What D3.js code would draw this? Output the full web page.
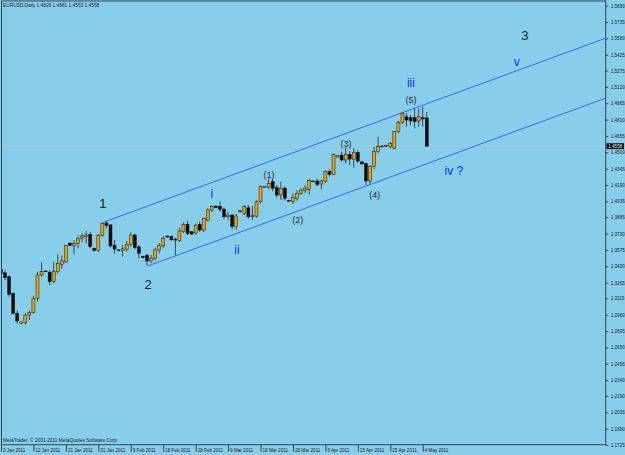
<!DOCTYPE html>
<html>
<head>
<meta charset="utf-8">
<script src="https://cdn.jsdelivr.net/npm/d3@7"></script>
<style>
    html, body { margin: 0; padding: 0; background: #87ceeb; }
    svg { display: block; font-family: "Liberation Sans", Arial, sans-serif; }
</style>
</head>
<body>
<svg id="chart" width="625" height="455"></svg>
<script>
// EURUSD daily bars, 3 Jan 2011 .. 5 May 2011 (sunday bars included)
const opens = [1.3390,1.3358,1.3320,1.3163,1.2974,1.2875,1.2888,1.2958,1.2983,1.3116,
    1.3337,1.3375,1.3362,1.3273,1.3368,1.3438,1.3460,1.3640,1.3612,1.3637,
    1.3684,1.3700,1.3722,1.3590,1.3570,1.3710,1.3830,1.3812,1.3620,1.3575,
    1.3570,1.3580,1.3625,1.3716,1.3603,1.3514,1.3526,1.3469,1.3494,1.3574,
    1.3614,1.3706,1.3703,1.3678,1.3662,1.3747,1.3817,1.3747,1.3735,1.3817,
    1.3763,1.3858,1.3953,1.3990,1.3988,1.3962,1.3889,1.3905,1.3796,1.3945,
    1.3922,1.3974,1.3889,1.3895,1.4031,1.4172,1.4170,1.4221,1.4164,1.4095,
    1.4160,1.4045,1.4035,1.4065,1.4110,1.4140,1.4150,1.4228,1.4228,1.4200,
    1.4222,1.4316,1.4290,1.4455,1.4474,1.4427,1.4481,1.4436,1.4500,1.4410,
    1.4395,1.4228,1.4364,1.4506,1.4553,1.4560,1.4555,1.4538,1.4695,1.4784,
    1.4837,1.4828,1.4828,1.4797,1.4828,1.4826];
const highs = [1.3425,1.3385,1.3335,1.3170,1.3000,1.2895,1.2975,1.2998,1.3140,1.3368,
    1.3457,1.3380,1.3384,1.3462,1.3533,1.3520,1.3625,1.3645,1.3668,1.3710,
    1.3731,1.3754,1.3745,1.3595,1.3725,1.3835,1.3848,1.3817,1.3668,1.3580,
    1.3621,1.3659,1.3741,1.3730,1.3621,1.3520,1.3533,1.3526,1.3595,1.3640,
    1.3706,1.3710,1.3712,1.3690,1.3785,1.3835,1.3850,1.3752,1.3825,1.3845,
    1.3880,1.3970,1.4000,1.3995,1.4035,1.3975,1.3935,1.3915,1.3915,1.3950,
    1.4000,1.3999,1.3990,1.4045,1.4185,1.4180,1.4250,1.4250,1.4190,1.4221,
    1.4175,1.4050,1.4110,1.4140,1.4160,1.4190,1.4250,1.4232,1.4250,1.4240,
    1.4330,1.4340,1.4490,1.4472,1.4506,1.4545,1.4512,1.4538,1.4520,1.4415,
    1.4400,1.4380,1.4553,1.4648,1.4570,1.4575,1.4600,1.4700,1.4800,1.4880,
    1.4870,1.4853,1.4917,1.4917,1.4932,1.4881];
const lows = [1.3245,1.3288,1.3131,1.2960,1.2875,1.2870,1.2867,1.2910,1.2974,1.3084,
    1.3321,1.3368,1.3242,1.3256,1.3350,1.3394,1.3450,1.3612,1.3533,1.3590,
    1.3650,1.3637,1.3590,1.3560,1.3555,1.3700,1.3780,1.3596,1.3542,1.3562,
    1.3510,1.3558,1.3605,1.3583,1.3495,1.3495,1.3425,1.3450,1.3475,1.3542,
    1.3592,1.3690,1.3660,1.3525,1.3650,1.3735,1.3715,1.3720,1.3720,1.3745,
    1.3745,1.3845,1.3935,1.3970,1.3935,1.3865,1.3860,1.3770,1.3765,1.3932,
    1.3905,1.3870,1.3860,1.3880,1.4015,1.4168,1.4150,1.4130,1.4070,1.4048,
    1.4045,1.4030,1.4010,1.4040,1.4095,1.4115,1.4100,1.4220,1.4180,1.4150,
    1.4210,1.4270,1.4285,1.4450,1.4411,1.4396,1.4380,1.4354,1.4400,1.4385,
    1.4190,1.4200,1.4342,1.4490,1.4540,1.4550,1.4535,1.4530,1.4680,1.4770,
    1.4743,1.4758,1.4727,1.4743,1.4743,1.4553];
const closes = [1.3350,1.3311,1.3154,1.2974,1.2901,1.2892,1.2957,1.2983,1.3116,1.3337,
    1.3368,1.3372,1.3273,1.3368,1.3448,1.3470,1.3615,1.3617,1.3637,1.3684,
    1.3706,1.3716,1.3605,1.3567,1.3710,1.3827,1.3808,1.3612,1.3583,1.3568,
    1.3585,1.3627,1.3716,1.3596,1.3543,1.3501,1.3469,1.3494,1.3574,1.3614,
    1.3685,1.3697,1.3671,1.3668,1.3754,1.3817,1.3732,1.3725,1.3810,1.3763,
    1.3874,1.3953,1.3988,1.3975,1.3960,1.3889,1.3905,1.3795,1.3896,1.3938,
    1.3984,1.3889,1.3900,1.4031,1.4174,1.4176,1.4206,1.4159,1.4095,1.4160,
    1.4065,1.4038,1.4070,1.4110,1.4140,1.4160,1.4235,1.4224,1.4196,1.4228,
    1.4320,1.4292,1.4478,1.4468,1.4427,1.4481,1.4436,1.4500,1.4417,1.4389,
    1.4228,1.4364,1.4506,1.4553,1.4560,1.4565,1.4585,1.4695,1.4784,1.4870,
    1.4806,1.4797,1.4790,1.4837,1.4816,1.4558];

const dateTickBars = [0, 8, 16, 24, 32, 40, 48, 56, 64, 72, 80, 88, 96, 104];
const dateTickLabels = ["3 Jan 2011", "12 Jan 2011", "21 Jan 2011", "31 Jan 2011", "9 Feb 2011",
    "18 Feb 2011", "28 Feb 2011", "9 Mar 2011", "18 Mar 2011", "28 Mar 2011",
    "6 Apr 2011", "15 Apr 2011", "25 Apr 2011", "4 May 2011"];
const priceTicks = [1.5890, 1.5735, 1.5580, 1.5425, 1.5275, 1.5120, 1.4965, 1.4810, 1.4655,
    1.4500, 1.4345, 1.4190, 1.4035, 1.3885, 1.3730, 1.3575, 1.3420, 1.3265, 1.3115,
    1.2960, 1.2805, 1.2650, 1.2495, 1.2340, 1.2190, 1.2035, 1.1880, 1.1725];

// channel lines, [bar, price]
const channelUpper = [[25.2, 1.3836], [149.1, 1.5582]];
const channelLower = [[36.2, 1.3422], [149.1, 1.5013]];

// wave counts [text, bar, price]
const waveMajor = [["1", 25.15, 1.4019], ["2", 36.25, 1.3251], ["3", 129.2, 1.5603]];
const waveMinor = [["i", 52.0, 1.4105], ["ii", 58.2, 1.3574], ["iii", 101.1, 1.5157],
    ["iv ?", 111.7, 1.4323], ["v", 127.2, 1.5356]];
const waveSub = [["(1)", 66.1, 1.4285], ["(2)", 73.2, 1.3858], ["(3)", 85.1, 1.4579],
    ["(4)", 92.2, 1.4095], ["(5)", 101.1, 1.4996]];

let bars = opens.map((o, i) => ({i: i, o: o, h: highs[i], l: lows[i], c: closes[i]}));
let last = bars[bars.length - 1];

let svg = d3.select("#chart");
let plotRight = 605.7, plotBottom = 444.7;

let x = d3.scaleLinear().domain([0, 149]).range([1, 605.2]);
let y = d3.scaleLinear().domain([1.1725, 1.5890]).range([445, 5.7]);

svg.append("rect").attr("width", 625).attr("height", 455).attr("fill", "#87ceeb");

svg.append("clipPath").attr("id", "plotclip")
    .append("rect").attr("x", 2).attr("y", 2).attr("width", plotRight - 2).attr("height", plotBottom - 2);

let plot = svg.append("g").attr("clip-path", "url(#plotclip)");

// bid line
plot.append("line")
    .attr("x1", 2).attr("x2", plotRight)
    .attr("y1", y(last.c)).attr("y2", y(last.c))
    .attr("stroke", "#b4c6ce").attr("stroke-width", 0.8);

// channel
let line = d3.line().x(d => x(d[0])).y(d => y(d[1]));
[channelUpper, channelLower].forEach(function (pts) {
    plot.append("path").attr("d", line(pts))
        .attr("fill", "none").attr("stroke", "#3a56f0").attr("stroke-width", 0.9);
});

// candles
let candle = plot.selectAll("g.candle").data(bars).enter().append("g").attr("class", "candle");

candle.append("line")
    .attr("x1", d => x(d.i)).attr("x2", d => x(d.i))
    .attr("y1", d => y(d.h)).attr("y2", d => y(d.l))
    .attr("stroke", "#3b4a52").attr("stroke-width", 1);

candle.append("rect")
    .attr("x", d => x(d.i) - 1.5)
    .attr("width", 3)
    .attr("y", d => y(Math.max(d.o, d.c)))
    .attr("height", d => Math.max(Math.abs(y(d.o) - y(d.c)), 0.8))
    .attr("fill", d => d.c >= d.o ? "#f2a000" : "#0a0a0a")
    .attr("stroke", "#151515")
    .attr("stroke-width", 0.5);

// frame
svg.append("rect")
    .attr("x", 1.5).attr("y", 1).attr("width", plotRight - 1.5).attr("height", plotBottom - 1)
    .attr("fill", "none").attr("stroke", "#2d4652").attr("stroke-width", 1);

// price axis
let yAxis = svg.append("g")
    .attr("transform", `translate(${plotRight},0)`)
    .call(d3.axisRight(y).tickValues(priceTicks).tickSize(2.5).tickPadding(2.5).tickFormat(d3.format(".4f")));
yAxis.select(".domain").remove();
yAxis.selectAll("line").attr("stroke", "#2d4652");
yAxis.selectAll("text").attr("font-size", 4.6).attr("fill", "#1b1b1b")
    .attr("font-family", "'Liberation Sans', Arial, sans-serif");

// date axis
let xAxis = svg.append("g")
    .attr("transform", `translate(0,${plotBottom})`)
    .call(d3.axisBottom(x).tickValues(dateTickBars).tickSize(7).tickFormat((d, i) => dateTickLabels[i]));
xAxis.select(".domain").remove();
xAxis.selectAll("line").attr("stroke", "#2d4652");
xAxis.selectAll("text")
    .attr("text-anchor", "start").attr("x", 1.5).attr("y", 6.9).attr("dy", 0)
    .attr("font-size", 4.6).attr("fill", "#1b1b1b")
    .attr("font-family", "'Liberation Sans', Arial, sans-serif");

// current price box
svg.append("rect")
    .attr("x", 606.5).attr("y", y(last.c) - 2.9).attr("width", 17.5).attr("height", 5.8)
    .attr("fill", "#000");
svg.append("text")
    .attr("x", 608.2).attr("y", y(last.c) + 1.7)
    .attr("font-size", 4.6).attr("fill", "#fff")
    .text(d3.format(".4f")(last.c));

// header and footer
svg.append("text")
    .attr("x", 3).attr("y", 7)
    .attr("font-size", 4.8).attr("fill", "#1a1a1a")
    .text("EURUSD,Daily  " + [last.o, last.h, last.l, last.c].map(d3.format(".4f")).join(" "));

svg.append("text")
    .attr("x", 3).attr("y", 441.5)
    .attr("font-size", 4.8).attr("fill", "#1a1a1a")
    .text("MetaTrader, \u00a9 2001-2011 MetaQuotes Software Corp.");

// wave labels
function labels(list, size, color) {
    svg.append("g").selectAll("text").data(list).enter().append("text")
        .attr("x", d => x(d[1])).attr("y", d => y(d[2]))
        .attr("text-anchor", "middle").attr("dominant-baseline", "central")
        .attr("font-size", size).attr("fill", color)
        .text(d => d[0]);
}
labels(waveMajor, 13, "#1c1c1c");
labels(waveMinor, 12, "#1030ff");
labels(waveSub, 9, "#2a2a2a");
</script>
</body>
</html>
